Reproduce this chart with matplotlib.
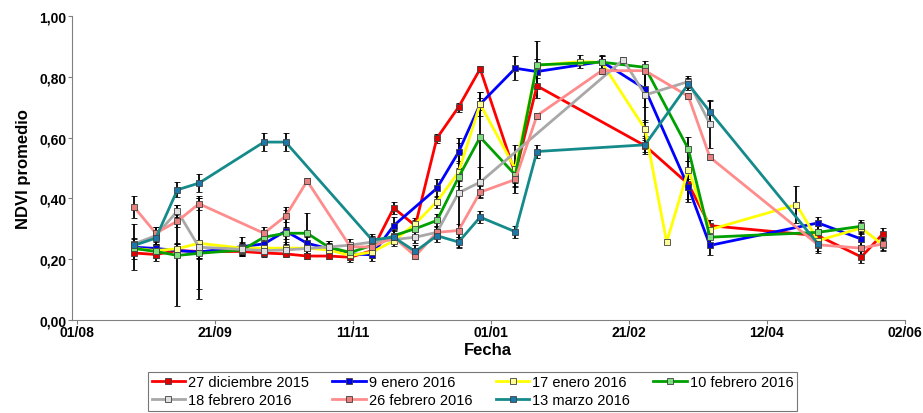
import numpy as np
import matplotlib
matplotlib.use('Agg')
import matplotlib.pyplot as plt
import matplotlib.dates as mdates
from matplotlib.ticker import FuncFormatter
from matplotlib.lines import Line2D

plt.rcParams['font.family'] = ['Liberation Sans', 'DejaVu Sans']

# Fechas de las imágenes (temporada 2015-2016)
fechas = ['2015-08-22', '2015-08-30', '2015-09-07', '2015-09-15', '2015-10-01',
          '2015-10-09', '2015-10-17', '2015-10-25', '2015-11-02', '2015-11-10',
          '2015-11-18', '2015-11-26', '2015-12-04', '2015-12-12', '2015-12-20',
          '2015-12-28', '2016-01-10', '2016-01-18', '2016-02-03', '2016-02-11',
          '2016-02-19', '2016-02-27', '2016-03-06', '2016-03-14', '2016-03-22',
          '2016-04-23', '2016-05-01', '2016-05-17', '2016-05-25']

nan = np.nan

# NDVI promedio por fecha de siembra (nan = sin dato)
ndvi_27dic = [0.22, 0.215, 0.228, 0.225, 0.225, 0.22, 0.217, 0.21, 0.21, 0.206,
              0.228, 0.368, 0.31, 0.598, 0.70, 0.826, 0.48, 0.77, nan, nan,
              nan, 0.573, nan, 0.447, 0.31, nan, 0.277, 0.207, 0.283]
ndvi_9ene = [0.239, 0.235, 0.228, 0.223, 0.241, 0.25, 0.292, 0.252, 0.234, 0.217,
             0.214, 0.31, nan, 0.433, 0.552, 0.71, 0.828, 0.817, nan, 0.85,
             nan, 0.76, nan, 0.437, 0.245, nan, 0.319, 0.266, nan]
ndvi_17ene = [0.235, 0.228, 0.234, 0.252, 0.236, 0.236, 0.236, 0.236, 0.23, 0.212,
              0.223, 0.26, 0.316, 0.389, 0.486, 0.71, 0.497, 0.837, 0.85, 0.847,
              nan, 0.628, 0.256, 0.494, 0.297, 0.379, 0.261, 0.302, 0.247]
ndvi_10feb = [0.235, 0.225, 0.212, 0.219, 0.23, 0.272, 0.285, 0.285, 0.239, 0.222,
              0.245, 0.277, 0.30, 0.327, 0.469, 0.601, 0.477, 0.839, nan, 0.848,
              nan, 0.831, nan, 0.5625, 0.272, nan, 0.288, 0.308, nan]
ndvi_18feb = [0.25, 0.277, 0.358, 0.239, 0.232, 0.228, 0.23, 0.235, 0.24, 0.246,
              0.256, nan, 0.272, 0.288, 0.418, 0.453, nan, nan, nan, nan,
              0.856, 0.74, nan, 0.784, 0.645, nan, nan, nan, nan]
ndvi_26feb = [0.371, 0.285, 0.325, 0.382, nan, 0.285, 0.341, 0.457, nan, 0.24,
              0.24, 0.272, 0.21, 0.288, 0.294, 0.42, 0.462, 0.672, nan, 0.82,
              nan, 0.82, nan, 0.736, 0.535, nan, 0.247, 0.236, 0.25]
ndvi_13mar = [0.245, 0.269, 0.428, 0.45, nan, 0.585, 0.585, nan, nan, nan,
              0.263, 0.272, 0.225, 0.277, 0.256, 0.338, 0.29, 0.554, nan, nan,
              nan, 0.576, nan, 0.776, 0.685, nan, 0.25, nan, nan]

# Desvío estándar de cada promedio
err_27dic = [0.02, 0.02, 0.02, 0.02, 0.01, 0.01, 0.01, 0.01, 0.01, 0.01,
             0.01, 0.02, 0.02, 0.015, 0.015, 0.01, 0.03, 0.04, 0, 0,
             0, 0.02, 0, 0.05, 0.02, 0, 0.02, 0.02, 0.02]
err_9ene = [0.075, 0.02, 0.02, 0.02, 0.03, 0.02, 0.08, 0.02, 0.02, 0.02,
            0.02, 0.03, 0, 0.03, 0.03, 0.02, 0.04, 0.02, 0, 0.02,
            0, 0.06, 0, 0.05, 0.03, 0, 0.02, 0.02, 0]
err_17ene = [0.02, 0.02, 0.02, 0.15, 0.02, 0.02, 0.02, 0.02, 0.02, 0.02,
             0.02, 0, 0.02, 0.02, 0.03, 0.04, 0.08, 0.02, 0.02, 0.02,
             0, 0.03, 0, 0.03, 0.02, 0.06, 0.02, 0.02, 0.02]
err_10feb = [0.02, 0.02, 0.165, 0.02, 0.02, 0.02, 0.02, 0.066, 0.02, 0.02,
             0.02, 0.02, 0.02, 0.02, 0.03, 0.15, 0.04, 0.08, 0, 0.02,
             0, 0.02, 0, 0.04, 0.02, 0, 0.02, 0.02, 0]
err_18feb = [0.02, 0.03, 0.02, 0.17, 0.02, 0.02, 0.02, 0.02, 0.02, 0.02,
             0.02, 0, 0.02, 0.02, 0.18, 0.05, 0, 0, 0, 0,
             0.01, 0.09, 0, 0.02, 0.08, 0, 0, 0, 0]
err_26feb = [0.035, 0.02, 0.02, 0.02, 0, 0.02, 0.02, 0.01, 0, 0.01,
             0.01, 0.02, 0.01, 0.02, 0.02, 0.02, 0.02, 0.01, 0, 0.01,
             0, 0.01, 0, 0.01, 0.01, 0, 0.02, 0.02, 0.02]
err_13mar = [0.02, 0.02, 0.025, 0.03, 0, 0.03, 0.03, 0, 0, 0,
             0.02, 0.03, 0.02, 0.02, 0.015, 0.02, 0.02, 0.02, 0, 0,
             0, 0.03, 0, 0.02, 0.035, 0, 0.03, 0, 0]

etiquetas = ['27 diciembre 2015', '9 enero 2016', '17 enero 2016', '10 febrero 2016',
             '18 febrero 2016', '26 febrero 2016', '13 marzo 2016']
colores_linea = ['#FF0000', '#0000FF', '#FFFF00', '#00A000', '#A8A8A8', '#FF8C8C', '#158A8A']
colores_marca = ['#E00000', '#0000E0', '#FFFF99', '#7CE07C', '#E0E0E0', '#E88080', '#1C78A8']

series = [ndvi_27dic, ndvi_9ene, ndvi_17ene, ndvi_10feb, ndvi_18feb, ndvi_26feb, ndvi_13mar]
errores = [err_27dic, err_9ene, err_17ene, err_10feb, err_18feb, err_26feb, err_13mar]

ticks_x = ['2015-08-01', '2015-09-21', '2015-11-11', '2016-01-01',
           '2016-02-21', '2016-04-12', '2016-06-02']

x = np.array(fechas, dtype='datetime64[D]')

fig = plt.figure(figsize=(9.23, 4.14), dpi=100)
ax = fig.add_axes([0.078, 0.225, 0.902, 0.734])

estilo = dict(lw=2, marker='s', ms=4, mec='#404040', mew=0.6)
handles = []
for y, e, lab, cl, cm in zip(series, errores, etiquetas, colores_linea, colores_marca):
    y = np.array(y, dtype=float)
    e = np.array(e, dtype=float)
    ok = ~np.isnan(y)
    ax.errorbar(x[ok], y[ok], yerr=e[ok], color=cl, mfc=cm, ecolor='black',
                elinewidth=1.3, capsize=2, capthick=1.3, **estilo)
    handles.append(Line2D([], [], color=cl, mfc=cm, **estilo))

ax.set_xlim(np.datetime64('2015-07-30'), np.datetime64('2016-06-02'))
ax.set_ylim(0, 1)
ax.set_xticks(np.array(ticks_x, dtype='datetime64[D]'))
ax.xaxis.set_major_formatter(mdates.DateFormatter('%d/%m'))
ax.set_yticks(np.arange(0, 1.01, 0.2))
ax.yaxis.set_major_formatter(FuncFormatter(lambda v, p: f'{v:.2f}'.replace('.', ',')))

for s in ['top', 'right']:
    ax.spines[s].set_visible(False)
for s in ['left', 'bottom']:
    ax.spines[s].set_color('#808080')
ax.tick_params(direction='out', length=3, color='#808080', labelsize=10, pad=1)
for t in ax.get_xticklabels() + ax.get_yticklabels():
    t.set_fontweight('bold')

ax.set_xlabel('Fecha', fontsize=12, fontweight='bold', labelpad=2)
ax.set_ylabel('NDVI promedio', fontsize=12, fontweight='bold', labelpad=6)

# leyenda por filas, 4 columnas
orden = [0, 4, 1, 5, 2, 6, 3]
leg = fig.legend([handles[i] for i in orden], [etiquetas[i] for i in orden],
                 loc='center', bbox_to_anchor=(0.512, 0.053), ncol=4, fontsize=10.5,
                 frameon=True, fancybox=False, edgecolor='#555555', handlelength=2.3,
                 handletextpad=0.2, columnspacing=1.6, borderpad=0.25, labelspacing=0.25)
leg.get_frame().set_linewidth(0.8)

fig.savefig('out.png', dpi=100)
